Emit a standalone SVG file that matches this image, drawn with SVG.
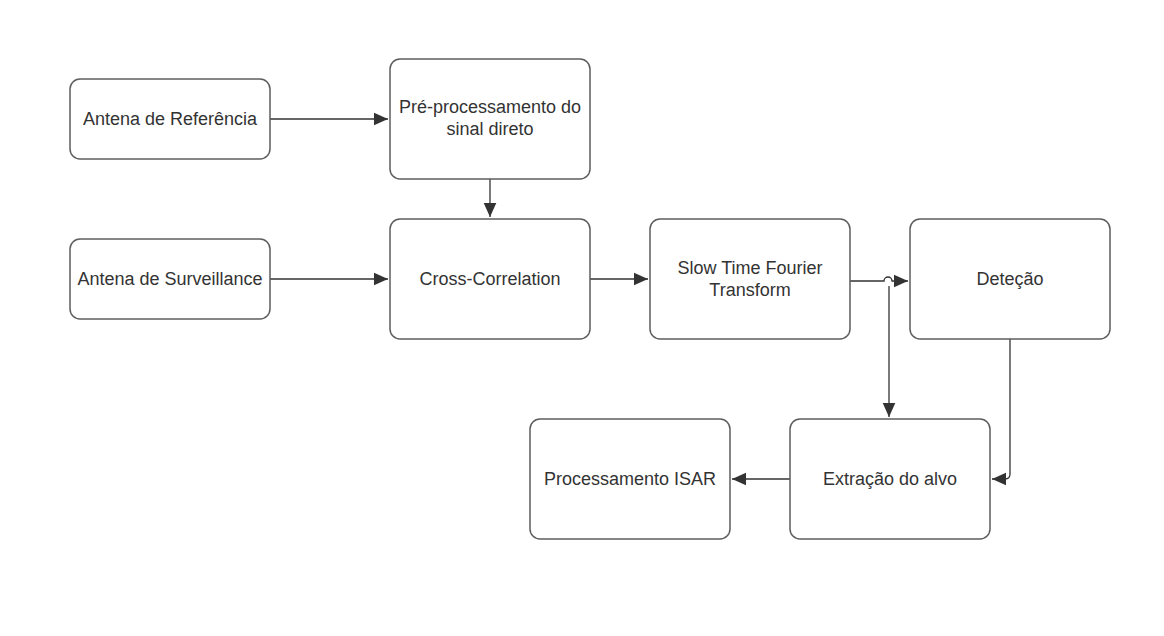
<svg xmlns="http://www.w3.org/2000/svg" width="1164" height="636" viewBox="0 0 1164 636">
<defs>
<marker id="ah" viewBox="0 0 10 10" refX="10" refY="5" markerWidth="16" markerHeight="14" markerUnits="userSpaceOnUse" orient="auto">
<path d="M0,0.5 L10,5 L0,9.5 z" fill="#333"/>
</marker>
<style>
.box{fill:#fff;stroke:#5e5e5e;stroke-width:1.5}
.lbl{font-family:"Liberation Sans",Arial,sans-serif;font-size:18px;fill:#333;text-anchor:middle}
.c{fill:none;stroke:#333;stroke-width:1.3}
</style>
</defs>
<rect width="1164" height="636" fill="#fff"/>
<g id="connectors">
<path class="c" d="M270,119 H388" marker-end="url(#ah)"/>
<path class="c" d="M490,179 V217" marker-end="url(#ah)"/>
<path class="c" d="M270,279 H388" marker-end="url(#ah)"/>
<path class="c" d="M590,279 H648" marker-end="url(#ah)"/>
<path class="c" d="M850,281 H884 A4,4 0 0 1 892,281 H908" marker-end="url(#ah)"/>
<path class="c" d="M889,286 V417" marker-end="url(#ah)"/>
<path class="c" d="M1010,339 V474 Q1010,479 1005,479 H992" marker-end="url(#ah)"/>
<path class="c" d="M790,479 H732" marker-end="url(#ah)"/>
</g>
<g id="n1"><rect class="box" x="70" y="79" width="200" height="80" rx="10"/><text class="lbl" x="170" y="125">Antena de Referência</text></g>
<g id="n2"><rect class="box" x="390" y="59" width="200" height="120" rx="10"/><text class="lbl" x="490" y="113">Pré-processamento do</text><text class="lbl" x="490" y="135">sinal direto</text></g>
<g id="n3"><rect class="box" x="70" y="239" width="200" height="80" rx="10"/><text class="lbl" x="170" y="285">Antena de Surveillance</text></g>
<g id="n4"><rect class="box" x="390" y="219" width="200" height="120" rx="10"/><text class="lbl" x="490" y="285">Cross-Correlation</text></g>
<g id="n5"><rect class="box" x="650" y="219" width="200" height="120" rx="10"/><text class="lbl" x="750" y="274">Slow Time Fourier</text><text class="lbl" x="750" y="296">Transform</text></g>
<g id="n6"><rect class="box" x="910" y="219" width="200" height="120" rx="10"/><text class="lbl" x="1010" y="285">Deteção</text></g>
<g id="n7"><rect class="box" x="790" y="419" width="200" height="120" rx="10"/><text class="lbl" x="890" y="485">Extração do alvo</text></g>
<g id="n8"><rect class="box" x="530" y="419" width="200" height="120" rx="10"/><text class="lbl" x="630" y="485">Processamento ISAR</text></g>
</svg>
